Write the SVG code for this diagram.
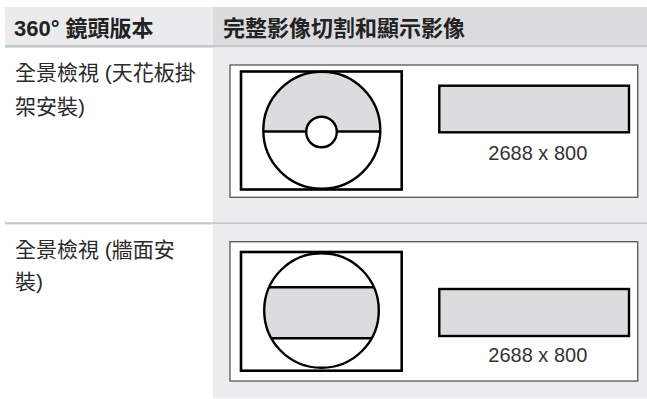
<svg xmlns="http://www.w3.org/2000/svg" width="647" height="399" viewBox="0 0 647 399">
<style>
.hdr{font-family:"Liberation Sans","Noto Sans CJK TC",sans-serif;font-weight:bold;font-size:22px;fill:#222}
.lbl{font-family:"Liberation Sans","Noto Sans CJK TC",sans-serif;font-size:21px;fill:#2a2a2a}
.dim{font-family:"Liberation Sans","Noto Sans CJK TC",sans-serif;font-size:20px;fill:#333;text-anchor:middle}
.frame{fill:#fff;stroke:#555;stroke-width:1.3}
.box{fill:#fff;stroke:#000;stroke-width:2.6}
.shape{stroke:#000;stroke-width:2.4}
.sep{fill:#c8c8ca}
</style>
<rect width="647" height="399" fill="#fff"/>
<g id="table">
<rect x="5" y="7" width="208" height="38" fill="#ebebed"/>
<rect x="213" y="7" width="434" height="38" fill="#dcdcde"/>
<rect class="sep" x="5" y="45" width="642" height="2.6"/>
<rect x="213" y="47.6" width="434" height="174.6" fill="#ececee"/>
<rect class="sep" x="5" y="222.2" width="642" height="2.2"/>
<rect x="213" y="224.4" width="434" height="174" fill="#ececee"/>
</g>
<g id="header-left"><text class="hdr" x="14" y="36">360° 鏡頭版本</text></g>
<g id="header-right"><text class="hdr" x="223" y="36">完整影像切割和顯示影像</text></g>
<g id="label-ceiling">
<text class="lbl" x="15" y="80">全景檢視 (天花板掛</text>
<text class="lbl" x="15" y="113.5">架安裝)</text>
</g>
<g id="label-wall">
<text class="lbl" x="15" y="256.5">全景檢視 (牆面安</text>
<text class="lbl" x="15" y="289">裝)</text>
</g>
<g id="diagram-ceiling">
<rect class="frame" x="230" y="65" width="407.7" height="132.3"/>
<rect class="box" x="241" y="71.5" width="160.7" height="118"/>
<path d="M263.3 131.5 A58.5 58.5 0 0 1 380.3 131.5 Z" fill="#dcdcde" stroke="none"/>
<circle class="shape" cx="321.8" cy="130.3" r="58.5" fill="none"/>
<line class="shape" x1="263.3" y1="131.5" x2="380.3" y2="131.5"/>
<circle class="shape" cx="321.5" cy="132" r="15.3" fill="#fff"/>
<rect class="shape" x="439.3" y="85.7" width="189.7" height="46.6" fill="#dcdcde"/>
<text class="dim" x="537.8" y="159.5">2688 x 800</text>
</g>
<g id="diagram-wall">
<rect class="frame" x="230" y="241.7" width="407.7" height="139.3"/>
<rect class="box" x="241" y="252" width="160.7" height="118.7"/>
<clipPath id="cc"><circle cx="321.5" cy="310.5" r="57.3"/></clipPath>
<rect x="262" y="287.3" width="120" height="51" fill="#dcdcde" clip-path="url(#cc)"/>
<g clip-path="url(#cc)">
<line class="shape" x1="262" y1="287.3" x2="382" y2="287.3"/>
<line class="shape" x1="262" y1="338.3" x2="382" y2="338.3"/>
</g>
<circle class="shape" cx="321.5" cy="310.5" r="57.3" fill="none"/>
<rect class="shape" x="439.3" y="289" width="189.7" height="47" fill="#dcdcde"/>
<text class="dim" x="537.8" y="362">2688 x 800</text>
</g>
</svg>
